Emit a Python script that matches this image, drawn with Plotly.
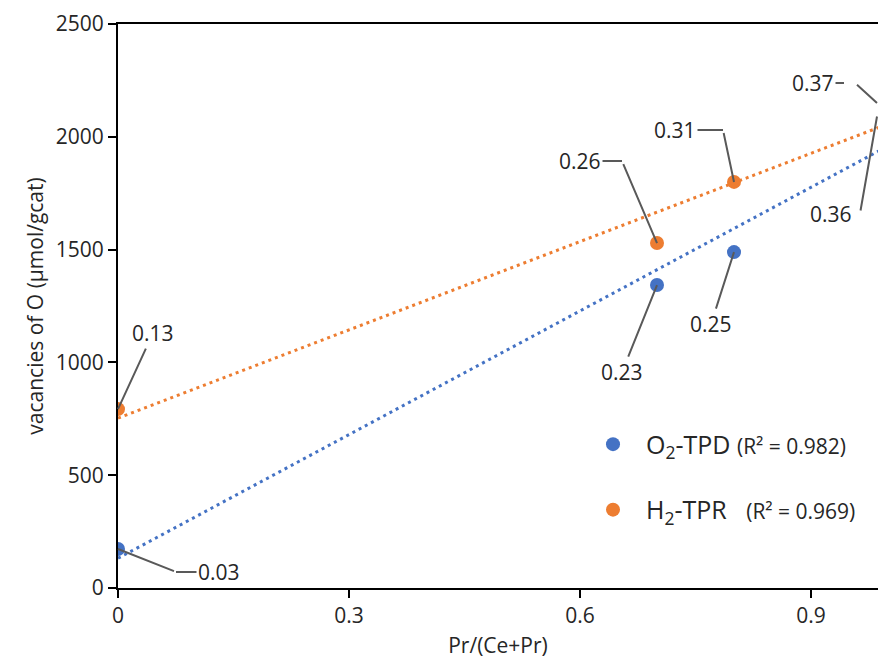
import numpy as np
import plotly.graph_objects as go

# ---- data ----
x_ratio = [0.0, 0.7, 0.8, 1.0]
o2_tpd = [173, 1343, 1489, 2090]
h2_tpr = [793, 1529, 1800, 2150]
o2_labels = ["0.03", "0.23", "0.25", "0.36"]
h2_labels = ["0.13", "0.26", "0.31", "0.37"]
x_ticks = [0, 0.3, 0.6, 0.9]
x_ticktext = ["0", "0.3", "0.6", "0.9"]
y_ticks = [0, 500, 1000, 1500, 2000, 2500]

BLUE = "#4472C4"
ORANGE = "#ED7D31"
LEAD = "#595959"
TXT = "#262626"
FONT = "Open Sans"
XMAX = 0.987
YMAX = 2500
FS = 21
NB = "\u00a0"

fig = go.Figure()

# trendlines (least squares fits of each series)
xf = np.array([0.0, 1.0])
for ys, col in [(o2_tpd, BLUE), (h2_tpr, ORANGE)]:
    b, a = np.polyfit(x_ratio, ys, 1)
    fig.add_trace(go.Scatter(x=xf, y=a + b * xf, mode="lines",
                             line=dict(color=col, width=3, dash="3px,4px"),
                             showlegend=False, hoverinfo="skip"))

fig.add_trace(go.Scatter(
    x=x_ratio, y=o2_tpd, mode="markers",
    marker=dict(color=BLUE, size=14),
    name=NB * 2 + "O<sub>2</sub>-TPD <span style='font-size:21px'>(R² = 0.982)</span>",
    legendgroup="a"))
fig.add_trace(go.Scatter(
    x=x_ratio, y=h2_tpr, mode="markers",
    marker=dict(color=ORANGE, size=14),
    name=NB * 2 + "H<sub>2</sub>-TPR" + NB * 3 + "<span style='font-size:21px'>(R² = 0.969)</span>",
    legendgroup="b"))

# label leader geometry (pixel offsets): elbow offset, then text offset from elbow
# (series, index, elbow_dx, elbow_dy, text_dx, text_dy)
label_style = [
    ("o2", 0, 58, 23, 43, 0),
    ("h2", 0, None, None, 35, -76),
    ("h2", 1, -35, -82, -42, 0),
    ("h2", 2, -11, -52, -48, 0),
    ("o2", 1, None, None, -35, 87),
    ("o2", 2, None, None, -23, 72),
    ("h2", 3, -33, -20, -42, 0),
    ("o2", 3, -28, 97, -29, 0),
]
series = {"o2": (o2_tpd, o2_labels), "h2": (h2_tpr, h2_labels)}
annos = []
for s, i, edx, edy, tdx, tdy in label_style:
    ys, labs = series[s]
    xv, yv = x_ratio[i], ys[i]
    if xv > XMAX:
        xr, xpos = "paper", xv / XMAX
    else:
        xr, xpos = "x", xv
    common = dict(x=xpos, y=yv, xref=xr, yref="y", showarrow=True,
                  arrowhead=0, arrowwidth=2, arrowcolor=LEAD,
                  font=dict(family=FONT, size=FS, color=TXT))
    if edx is None:
        annos.append(dict(common, text=labs[i], ax=tdx, ay=tdy, standoff=0))
    else:
        annos.append(dict(common, text=" ", ax=edx, ay=edy, font=dict(size=2)))
        annos.append(dict(common, text=labs[i], xshift=edx, yshift=-edy,
                          ax=tdx, ay=tdy))

fig.update_layout(
    width=878, height=659,
    margin=dict(l=118, r=0, t=24, b=71),
    paper_bgcolor="white", plot_bgcolor="white",
    font=dict(family=FONT, size=FS, color=TXT),
    annotations=annos,
    legend=dict(x=0.625, y=0.197, xanchor="left", yanchor="middle",
                font=dict(size=25, color=TXT), tracegroupgap=30,
                bgcolor="rgba(0,0,0,0)"),
    xaxis=dict(range=[0, XMAX], tickvals=x_ticks, ticktext=x_ticktext,
               showgrid=False, zeroline=False, showline=True, linecolor="black",
               linewidth=2, mirror=True, ticks="outside", ticklen=8, tickwidth=2,
               tickcolor="black", tickfont=dict(size=FS),
               title=dict(text="Pr/(Ce+Pr)", standoff=14, font=dict(size=FS))),
    yaxis=dict(range=[0, YMAX], tickvals=y_ticks, showgrid=False, zeroline=False,
               showline=True, linecolor="black", linewidth=2, ticks="outside",
               ticklen=8, tickwidth=2, tickcolor="black", tickfont=dict(size=FS),
               ticksuffix=NB * 2,
               title=dict(text="vacancies of O (μmol/gcat)", standoff=6,
                          font=dict(size=FS))),
)

# remove the default page margin so the 878x659 figure fills the window exactly
fig.write_html("out.html", config={"displayModeBar": False},
               post_script="document.body.style.margin='0';document.body.style.overflow='hidden';")
